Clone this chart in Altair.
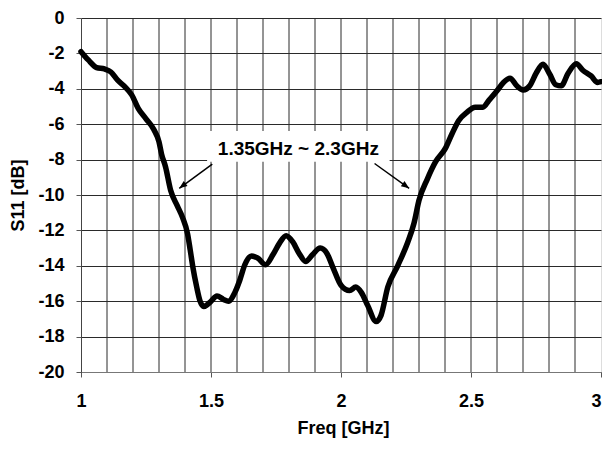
import altair as alt
import pandas as pd

# ---- data ----
freq = [1.000, 1.028, 1.06, 1.09, 1.115, 1.14, 1.17, 1.195, 1.22, 1.25, 1.28, 1.30, 1.31,
        1.325, 1.345, 1.37, 1.39, 1.41, 1.42, 1.43, 1.445, 1.458, 1.472, 1.485, 1.497,
        1.523, 1.548, 1.567, 1.592, 1.611, 1.63, 1.656, 1.68, 1.71, 1.738, 1.763, 1.789,
        1.814, 1.839, 1.864, 1.89, 1.92, 1.946, 1.97, 2.0, 2.033, 2.057, 2.078, 2.103,
        2.135, 2.154, 2.18, 2.218, 2.256, 2.281, 2.3, 2.332, 2.364, 2.402, 2.427, 2.453,
        2.485, 2.516, 2.546, 2.568, 2.6, 2.625, 2.65, 2.676, 2.701, 2.726, 2.752, 2.777,
        2.803, 2.826, 2.847, 2.873, 2.905, 2.93, 2.962, 2.987, 3.0]
s11 = [-1.9, -2.37, -2.8, -2.88, -3.05, -3.5, -3.9, -4.34, -5.1, -5.7, -6.3, -7.0, -7.7,
       -8.4, -9.75, -10.6, -11.25, -12.2, -13.1, -14.05, -15.2, -16.0, -16.3, -16.2, -16.05,
       -15.7, -15.9, -16.0, -15.5, -14.8, -13.94, -13.44, -13.57, -13.94, -13.38, -12.73, -12.3,
       -12.64, -13.3, -13.76, -13.38, -13.0, -13.3, -14.13, -15.1, -15.4, -15.2, -15.5, -16.25,
       -17.15, -16.8, -15.2, -14.0, -12.7, -11.58, -10.3, -9.1, -8.12, -7.35, -6.54, -5.79,
       -5.32, -5.04, -5.04, -4.67, -4.11, -3.64, -3.4, -3.83, -4.07, -3.83, -3.08, -2.61,
       -3.18, -3.77, -3.83, -3.14, -2.58, -2.95, -3.27, -3.64, -3.6]

x_ticks = [1, 1.5, 2, 2.5, 3]
y_ticks = [-20, -18, -16, -14, -12, -10, -8, -6, -4, -2, 0]
x_grid = [1.1, 1.2, 1.3, 1.4, 1.5, 1.6, 1.7, 1.8, 1.9, 2.0, 2.1, 2.2, 2.3, 2.4, 2.5,
          2.6, 2.7, 2.8, 2.9]

label_text = ["1.35GHz ~ 2.3GHz"]
label_x = [1.836]
label_y = [-7.39]
box_x = [1.485]
box_x2 = [2.187]
box_y = [-6.39]
box_y2 = [-8.12]

arrow_x = [1.505, 2.129]
arrow_y = [-8.25, -8.22]
arrow_x2 = [1.378, 2.262]
arrow_y2 = [-9.62, -9.62]
arrow_angle = [233.5, 125.5]

FONT = "Liberation Sans"
GRID = "#2a2a2a"
W, H = 520, 354

xs = alt.Scale(domain=[1, 3], nice=False, zero=False)
ys = alt.Scale(domain=[-20, 0], nice=False, zero=False)

x_axis = alt.Axis(
    values=x_ticks, tickCount=len(x_ticks), grid=False, title="Freq [GHz]",
    labelExpr="datum.value + ''", labelOverlap=False,
    labelAlign={"condition": {"test": "datum.value == 3", "value": "right"},
                "value": "center"},
    tickSize=5, tickColor="#555", domainColor="#777",
    labelPadding=15, labelFontSize=18, labelFont=FONT, labelFontWeight="bold",
    labelColor="black",
    titleFont=FONT, titleFontSize=18, titleFontWeight="bold", titleColor="black",
    titleX=W / 2 + 2, titleY=56, titleBaseline="middle", titleAlign="center",
)
y_axis = alt.Axis(
    values=y_ticks, tickCount=len(y_ticks), grid=True, gridColor=GRID, gridWidth=1,
    gridOpacity=1,
    title="S11 [dB]", labelExpr="datum.value + ''", labelOverlap=False,
    tickSize=5, tickColor="#555", domainColor="#444",
    labelPadding=12, labelFontSize=18, labelFont=FONT, labelFontWeight="bold",
    labelColor="black",
    titleFont=FONT, titleFontSize=18, titleFontWeight="bold", titleColor="black",
    titleX=-63, titleY=H / 2, titleAngle=270, titleBaseline="middle",
    titleAlign="center",
)

curve_df = pd.DataFrame({"x": freq, "y": s11})
grid_df = pd.DataFrame({"x": x_grid})
box_df = pd.DataFrame({"x": box_x, "x2": box_x2, "y": box_y, "y2": box_y2})
text_df = pd.DataFrame({"x": label_x, "y": label_y, "t": label_text})
arrow_df = pd.DataFrame({"x": arrow_x, "y": arrow_y, "x2": arrow_x2, "y2": arrow_y2,
                         "a": arrow_angle})

vgrid = alt.Chart(grid_df).mark_rule(color=GRID, strokeWidth=1).encode(
    x=alt.X("x:Q", scale=xs, axis=x_axis)
)

box = alt.Chart(box_df).mark_rect(color="white").encode(
    x=alt.X("x:Q", scale=xs), x2="x2:Q",
    y=alt.Y("y:Q", scale=ys, axis=y_axis), y2="y2:Q",
)

text = alt.Chart(text_df).mark_text(
    font=FONT, fontWeight="bold", fontSize=19, align="center", baseline="middle",
    color="black",
).encode(
    x=alt.X("x:Q", scale=xs),
    y=alt.Y("y:Q", scale=ys),
    text="t:N",
)

arrow_lines = alt.Chart(arrow_df).mark_rule(color="black", strokeWidth=1.5).encode(
    x=alt.X("x:Q", scale=xs), x2="x2:Q",
    y=alt.Y("y:Q", scale=ys), y2="y2:Q",
)

arrow_heads = alt.Chart(arrow_df).mark_point(
    shape="M0,0 L-0.4,1 L0.4,1 Z", filled=True, color="black", opacity=1, size=250,
).encode(
    x=alt.X("x2:Q", scale=xs),
    y=alt.Y("y2:Q", scale=ys),
    angle=alt.Angle("a:Q", scale=None),
)

line = alt.Chart(curve_df).mark_line(
    color="black", strokeWidth=5.5, interpolate="monotone",
    strokeJoin="round", strokeCap="round",
).encode(
    x=alt.X("x:Q", scale=xs),
    y=alt.Y("y:Q", scale=ys),
)

chart = alt.layer(vgrid, box, text, arrow_lines, arrow_heads, line).properties(
    width=W, height=H,
    autosize=alt.AutoSizeParams(type="none"),
    padding={"left": 73, "top": 10, "right": 1, "bottom": 68},
).configure_view(stroke="#888", strokeWidth=1).configure(background="white")

chart.save("out.html", embed_options={"renderer": "svg", "actions": False})
